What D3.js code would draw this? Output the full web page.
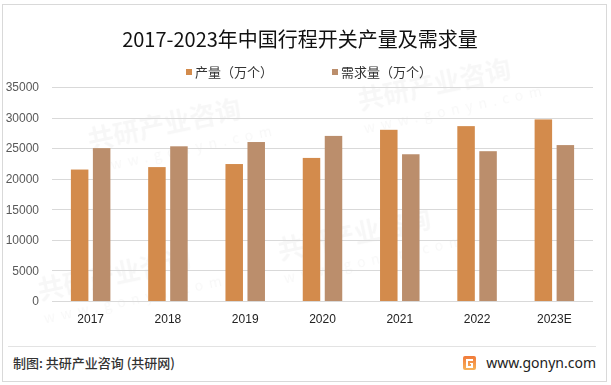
<!DOCTYPE html>
<html>
<head>
<meta charset="utf-8">
<script src="https://cdn.jsdelivr.net/npm/d3@7"></script>
<style>
  html, body { margin: 0; padding: 0; background: #fff; }
  svg { display: block; font-family: "Noto Sans CJK SC", "Noto Sans", sans-serif; }
</style>
</head>
<body>
<div id="chart"></div>
<script>
const years = ['2017', '2018', '2019', '2020', '2021', '2022', '2023E'];
const production = [21500, 21900, 22400, 23400, 28000, 28600, 29700];
const demand = [25000, 25300, 26000, 27000, 24000, 24500, 25500];
const seriesNames = ['产量（万个）', '需求量（万个）'];
const yTicks = [0, 5000, 10000, 15000, 20000, 25000, 30000, 35000];

const W = 611, H = 385;
const colors = ['#d38b4c', '#bb8e6c'];
const margin = { top: 87, right: 18, bottom: 84, left: 52 };

const svg = d3.select('#chart').append('svg')
  .attr('width', W)
  .attr('height', H);

// outer frame
svg.append('rect')
  .attr('x', 2.5).attr('y', 4.5)
  .attr('width', 604).attr('height', 377)
  .attr('fill', '#fff')
  .attr('stroke', '#d9d9d9');

// faint watermarks
const wm = svg.append('g').attr('fill', '#000').attr('opacity', 0.035);
[[90, 150], [360, 110], [280, 260], [40, 300]].forEach(([x, y]) => {
  const g = wm.append('g').attr('transform', `translate(${x},${y}) rotate(-12)`);
  g.append('text').attr('font-size', 26).attr('font-weight', 'bold').text('共研产业咨询');
  g.append('text').attr('y', 24).attr('font-size', 14).attr('letter-spacing', 6).text('www.gonyn.com');
});

// title
svg.append('text')
  .attr('x', 300).attr('y', 47)
  .attr('text-anchor', 'middle')
  .attr('font-size', 20)
  .attr('fill', '#111')
  .text('2017-2023年中国行程开关产量及需求量');

// legend
const legendX = [186, 332];
seriesNames.forEach((name, i) => {
  const lg = svg.append('g').attr('transform', `translate(${legendX[i]}, 72)`);
  lg.append('rect').attr('x', 0).attr('y', -3).attr('width', 6).attr('height', 6).attr('fill', colors[i]);
  lg.append('text').attr('x', 9).attr('y', 5).attr('font-size', 13).attr('fill', '#333').text(name);
});

const plotW = W - margin.left - margin.right;

const x = d3.scaleBand().domain(years).range([margin.left, margin.left + plotW]);
const y = d3.scaleLinear().domain([0, 35000]).range([301, margin.top]);

// gridlines
svg.append('g').selectAll('line')
  .data(yTicks)
  .join('line')
  .attr('x1', margin.left).attr('x2', margin.left + plotW)
  .attr('y1', d => Math.round(y(d)) + 0.5).attr('y2', d => Math.round(y(d)) + 0.5)
  .attr('stroke', '#d9d9d9')
  .attr('stroke-width', 1.2);

// y axis labels
const yAxis = svg.append('g')
  .attr('transform', `translate(${margin.left - 10},0)`)
  .call(d3.axisLeft(y).tickValues(yTicks).tickSize(0).tickFormat(d3.format('d')));
yAxis.select('.domain').remove();
yAxis.selectAll('text')
  .attr('font-size', 12)
  .attr('fill', '#595959')
  .attr('font-family', '"Liberation Sans", sans-serif');

// x axis labels
const xAxis = svg.append('g')
  .attr('transform', `translate(0,${311})`)
  .call(d3.axisBottom(x).tickSize(0));
xAxis.select('.domain').remove();
xAxis.selectAll('text')
  .attr('font-size', 12)
  .attr('fill', '#222')
  .attr('font-family', '"Liberation Sans", sans-serif');

// bars
const barW = 17.5, gap = 4.5;
const data = years.map((yr, i) => ({ yr, vals: [production[i], demand[i]] }));
const groups = svg.append('g').selectAll('g')
  .data(data)
  .join('g')
  .attr('transform', d => `translate(${x(d.yr) + x.bandwidth() / 2},0)`);
groups.selectAll('rect')
  .data(d => d.vals.map((v, k) => ({ v, k })))
  .join('rect')
  .attr('x', d => d.k === 0 ? -barW - gap / 2 : gap / 2)
  .attr('y', d => y(d.v))
  .attr('width', barW)
  .attr('height', d => y(0) - y(d.v))
  .attr('fill', d => colors[d.k]);

// footer separator
svg.append('line')
  .attr('x1', 8).attr('x2', 596)
  .attr('y1', 346.5).attr('y2', 346.5)
  .attr('stroke', '#e3e3e3');

svg.append('text')
  .attr('x', 13).attr('y', 368)
  .attr('font-size', 13)
  .attr('font-weight', 500)
  .attr('fill', '#333')
  .text('制图: 共研产业咨询 (共研网)');

// logo
const logo = svg.append('g').attr('transform', 'translate(463,356)');
const grad = svg.append('defs').append('linearGradient')
  .attr('id', 'lg').attr('x1', 0).attr('y1', 0).attr('x2', 0).attr('y2', 1);
grad.append('stop').attr('offset', 0).attr('stop-color', '#f07a3a');
grad.append('stop').attr('offset', 1).attr('stop-color', '#f7b35a');
logo.append('rect').attr('width', 13).attr('height', 14).attr('rx', 2).attr('fill', 'url(#lg)');
logo.append('path')
  .attr('d', 'M3 3 H10 V5 H5 V10 H8 V8 H7 V7 H10 V12 H3 Z')
  .attr('fill', '#fff');

svg.append('text')
  .attr('x', 596).attr('y', 368)
  .attr('text-anchor', 'end')
  .attr('font-size', 14)
  .attr('fill', '#222')
  .attr('font-family', '"Noto Sans", sans-serif')
  .text('www.gonyn.com');
</script>
</body>
</html>
